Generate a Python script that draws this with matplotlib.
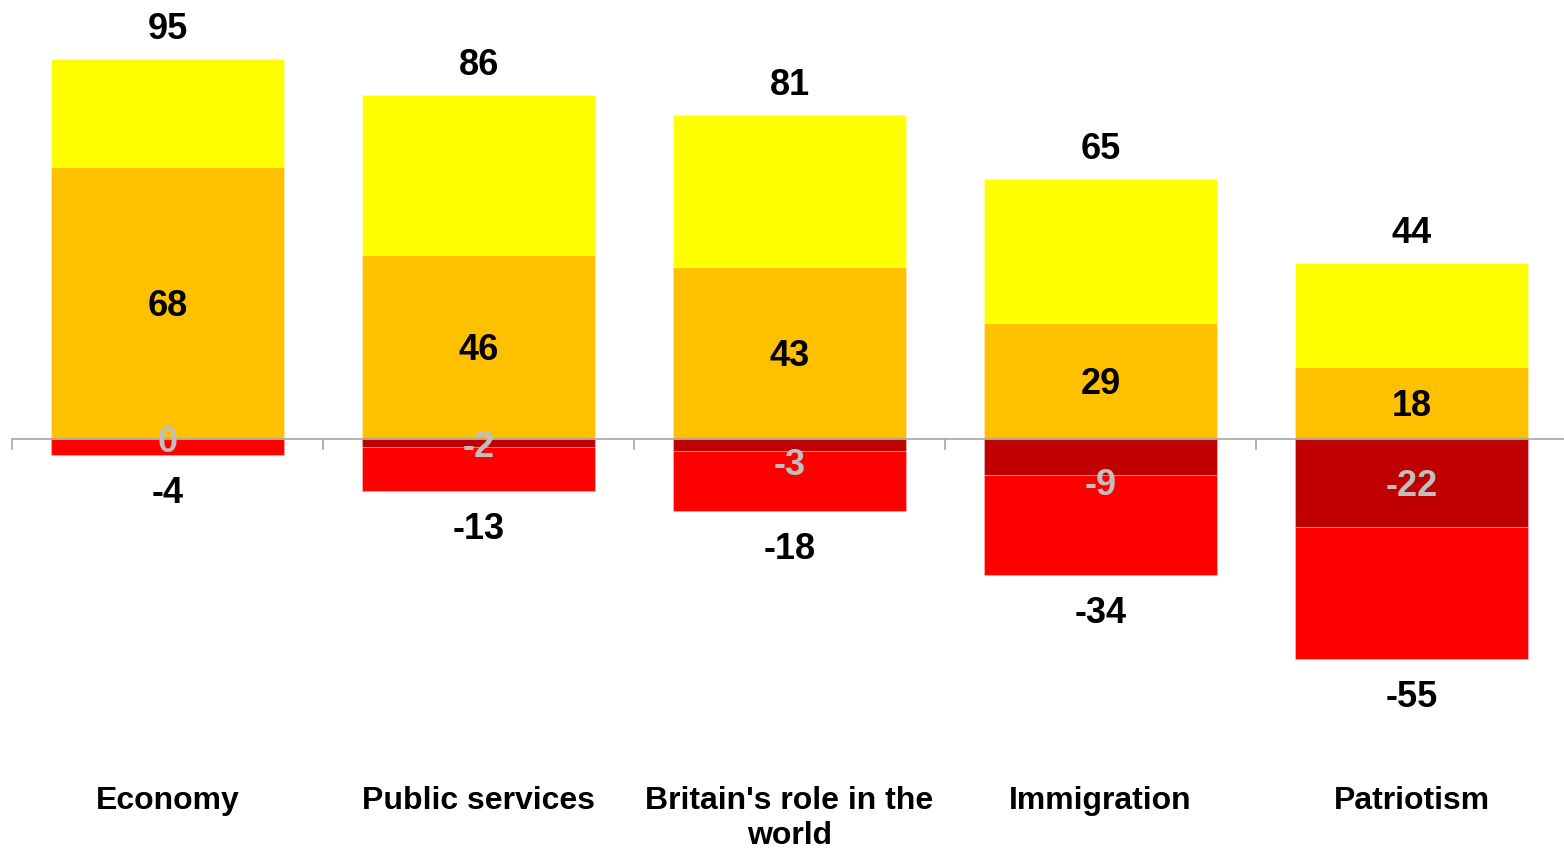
import matplotlib
matplotlib.use("Agg")
import matplotlib.pyplot as plt
import numpy as np

plt.rcParams["font.family"] = ["Liberation Sans", "DejaVu Sans"]

categories = ["Economy", "Public services", "Britain's role in the\nworld",
              "Immigration", "Patriotism"]
pos_total = [95, 86, 81, 65, 44]
pos_strong = [68, 46, 43, 29, 18]
neg_strong = [0, -2, -3, -9, -22]
neg_total = [-4, -13, -18, -34, -55]

# extra downward nudge (points) of the grey labels, as placed in the original
grey_nudge_pt = [0, 0.7, 12, 18, 0]

YELLOW = "#FFFF00"
ORANGE = "#FFC000"
DARK_RED = "#C00000"
RED = "#FF0000"
AXIS_GREY = "#A6A6A6"
LABEL_GREY = "#BFBFBF"
EDGE = (1, 1, 1, 0.25)

W, H = 1564, 848
fig = plt.figure(figsize=(W / 100, H / 100), dpi=100)
ax = fig.add_axes([12 / W, 0, 1555 / W, 1])

x = np.arange(len(categories))
bw = 0.746
pt = np.array(pos_total)
ps = np.array(pos_strong)
ns = np.array(neg_strong)
nt = np.array(neg_total)

ax.bar(x, ps, bw, color=ORANGE, edgecolor=EDGE, lw=0.8, zorder=2)
ax.bar(x, pt - ps, bw, bottom=ps, color=YELLOW, edgecolor=EDGE, lw=0.8, zorder=2)
ax.bar(x, ns, bw, color=DARK_RED, edgecolor=EDGE, lw=0.8, zorder=2)
ax.bar(x, nt - ns, bw, bottom=ns, color=RED, edgecolor=EDGE, lw=0.8, zorder=2)

# zero line with category-boundary ticks
ax.axhline(0, color=AXIS_GREY, lw=1.2, zorder=3)
for b in np.arange(-0.5, len(categories) + 0.5, 1.0):
    ax.plot([b, b], [0, -2.4], color=AXIS_GREY, lw=1.2, zorder=3, clip_on=False)

fs = 26
dy = -2.5  # matplotlib centres on the full text box; drop digits to match


def label(xv, yv, txt, off, color):
    ax.annotate(txt, (xv, yv), xytext=(0, off + dy), textcoords="offset points",
                ha="center", va="center", fontsize=fs, fontweight="bold",
                color=color, zorder=4)


for i in range(len(categories)):
    label(x[i], pt[i], f"{pt[i]}", 24, "#000000")
    label(x[i], ps[i] / 2, f"{ps[i]}", 0, "#000000")
    label(x[i], ns[i] / 2, f"{ns[i]}", -grey_nudge_pt[i], LABEL_GREY)
    label(x[i], nt[i], f"{nt[i]}", -25, "#000000")
    ax.text(x[i], (439 - 786) / 4, categories[i], ha="center", va="top",
            fontsize=23, fontweight="bold", color="#000000", linespacing=1.2)

ax.set_xlim(-0.5, len(categories) - 0.5)
ax.set_ylim(-(H - 439) / 4, 439 / 4)
ax.axis("off")

fig.savefig("out.png", dpi=100)
